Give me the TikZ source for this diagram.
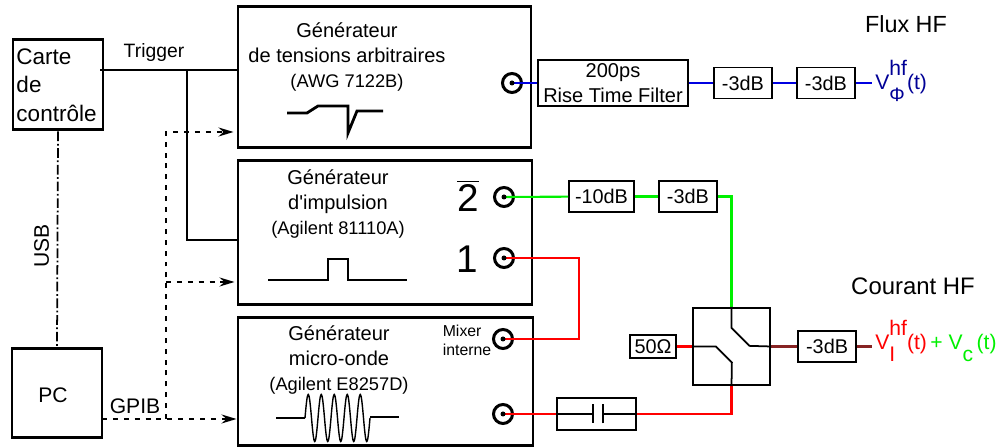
\documentclass[tikz,border=0pt]{standalone}
\usepackage{fontspec}
\setmainfont{Liberation Sans}
\usetikzlibrary{positioning,arrows.meta,calc}
\definecolor{FluxBlue}{RGB}{0,0,225}
\definecolor{FluxText}{RGB}{0,0,150}
\definecolor{PulseGreen}{RGB}{0,240,0}
\definecolor{WaveRed}{RGB}{255,0,0}
\definecolor{MixRed}{RGB}{135,35,35}
\newcommand{\fsize}[1]{\fontsize{#1}{#1}\selectfont}
\newcommand{\hfsub}[1]{\rlap{\raisebox{-6.8pt}{#1}}\raisebox{8.5pt}{hf}}
\tikzset{
  instr/.style={draw,line width=1.7pt,inner sep=0pt},
  attn/.style={draw,line width=1.1pt,minimum width=1.16cm,minimum height=0.62cm,
    inner sep=0pt,font=\fsize{11.3}},
  port/.style={draw,circle,line width=1.7pt,minimum size=0.38cm,inner sep=0pt},
  title/.style={align=center,font=\fontsize{11.4}{14.2}\selectfont,inner sep=0pt},
  digit/.style={font=\fsize{22},inner sep=0pt},
  flux/.style={line width=1.2pt,draw=FluxBlue},
  pulse/.style={line width=1.2pt,draw=PulseGreen},
  micro/.style={line width=1.2pt,draw=WaveRed},
  mixed/.style={line width=1.2pt,draw=MixRed},
  wire/.style={line width=1pt},
  wave/.style={line width=1.6pt},
  usbline/.style={line width=1pt,dash pattern=on 5.5pt off 1.5pt on 1pt off 1.5pt},
  gpib/.style={line width=1pt,dash pattern=on 2.8pt off 3.4pt},
  gpibflow/.style={gpib,-{Stealth[length=3mm,width=1.8mm,inset=1mm]}}
}
\begin{document}
\begin{tikzpicture}
  \useasboundingbox (0,0) rectangle (19.94,8.96);
  \node[instr,minimum width=1.8cm,minimum height=1.8cm,align=left,text width=1.66cm,
    font=\fontsize{12.8}{16.2}\selectfont] (carte) at (1.16,7.26) {Carte\\de\\contrôle};
  \node[instr,minimum width=1.8cm,minimum height=1.78cm] (pc) at (1.14,1.09) {};
  \node[font=\fsize{12},inner sep=0pt] (pctext) at (1.06,1.06) {PC};
  \node[instr,minimum width=5.86cm,minimum height=2.82cm] (awg) at (7.69,7.41) {};
  \node[instr,minimum width=5.88cm,minimum height=2.88cm] (imp) at (7.7,4.3) {};
  \node[instr,minimum width=5.9cm,minimum height=2.56cm] (mw) at (7.71,1.32) {};

  \node[title] (awgtext) at (6.94,7.82) {Générateur\\de tensions arbitraires\\{\fsize{10.4}(AWG 7122B)}};
  \node[title] (imptext) at (6.76,4.88) {Générateur\\d\textquotesingle impulsion\\{\fsize{10.4}(Agilent 81110A)}};
  \node[title] (mwtext) at (6.78,1.76) {Générateur\\micro-onde\\{\fsize{10.4}(Agilent E8257D)}};
  \node[align=left,font=\fontsize{9}{10.8}\selectfont,inner sep=0pt] (mixtext) at (9.34,2.16) {Mixer\\interne};
  \node[digit] (twobar) at (9.36,5.04) {$\overline{\mbox{2}}$};
  \node[digit] (one) at (9.34,3.78) {1};

  \node[port] (pawg) at (10.24,7.3) {};
  \node[port] (ptwo) at (10.08,5.02) {};
  \node[port] (pone) at (10.08,3.8) {};
  \node[port] (pmix) at (10.06,2.18) {};
  \node[port] (pout) at (10.06,0.68) {};

  \node[draw,line width=1.1pt,minimum width=3cm,minimum height=0.92cm,inner sep=0pt,align=center,
    font=\fontsize{11.4}{14.2}\selectfont] (filter) at (12.26,7.3) {200ps\\Rise Time Filter};
  \node[attn,right=0.48cm of filter] (fa) {-3dB};
  \node[attn,right=0.46cm of fa] (fb) {-3dB};
  \coordinate (fend) at (17.44,7.3);
  \node[anchor=base west,inner sep=0pt,text=FluxText,font=\fsize{12}] (vflux) at (17.5,7.16) {V\hfsub{\fsize{11}Φ}(t)};

  \node[attn,minimum width=1.3cm] (pa) at (12.03,5.03) {-10dB};
  \node[attn,right=0.46cm of pa] (pb) {-3dB};

  \node[draw,line width=1pt,minimum size=1.55cm,inner sep=0pt] (sw) at (14.63,2.03) {};
  \node[draw,line width=1pt,minimum width=0.92cm,minimum height=0.46cm,inner sep=0pt,
    font=\fsize{11.3},left=0.3cm of sw] (load) {50Ω};
  \node[attn,right=0.52cm of sw] (ma) {-3dB};
  \coordinate (mend) at (17.44,2.03);
  \node[anchor=base west,inner sep=0pt,font=\fsize{12}] (vmix) at (17.5,1.96)
    {\textcolor{WaveRed}{V\hfsub{I}(t)}\textcolor{PulseGreen}{\,+ V\raisebox{-6.8pt}{c}\,(t)}};
  \node[draw,line width=1pt,minimum width=1.58cm,minimum height=0.64cm,inner sep=0pt] (cap) at (11.93,0.68) {};

  \node[font=\fsize{13.3},inner sep=0pt] (fluxtext) at (18.12,8.48) {Flux HF};
  \node[font=\fsize{13.6},inner sep=0pt] (couranttext) at (18.26,3.24) {Courant HF};
  \node[font=\fsize{11},inner sep=0pt] (trigtext) at (3.08,7.9) {Trigger};
  \node[font=\fsize{12},inner sep=0pt] (gpibtext) at (2.7,0.84) {GPIB};
  \node[font=\fsize{12},inner sep=0pt,rotate=90] (usbtext) at (0.83,4.04) {USB};

  \draw[flux] (pawg.center) -- (filter);
  \draw[flux] (filter) -- (fa);
  \draw[flux] (fa) -- (fb);
  \draw[flux] (fb) -- (fend);

  \draw[pulse] (ptwo.center) -- (pa);
  \draw[pulse] (pa) -- (pb);
  \draw[pulse] (pb.east) -| (sw.north);

  \draw[micro] (pone.center) -- ++(1.5,0) |- (pmix.center);
  \draw[micro] (pout.center) -- (cap);
  \draw[micro] (cap.east) -| (sw.south);
  \draw[micro] (load) -- (sw);
  \draw[mixed] (sw) -- (ma);
  \draw[mixed] (ma) -- (mend);

  \foreach \p in {pawg,ptwo,pone,pmix,pout}
    \fill (\p) circle (0.05);

  \draw[wire] (sw.north) -- ++(0,-0.42) -- ++(0.36,-0.36) -- (sw.east);
  \draw[wire] (sw.west) -- ++(0.48,0) -- ++(0.32,-0.32) -- (sw.south);
  \draw[wire] (cap.west) -- ++(0.74,0) ++(0,0.19) -- ++(0,-0.38) ++(0.2,0) -- ++(0,0.38) ++(0,-0.19) -- (cap.east);

  \coordinate (trigs) at (2.0,7.56);
  \coordinate (trigj) at (3.74,7.56);
  \coordinate (trigi) at (3.74,4.16);
  \draw[wire] (trigs) -- (trigs -| awg.west);
  \draw[wire] (trigj) -- (trigi) -- (trigi -| imp.west);
  \draw[usbline] (carte.south) -- (pc.north);

  \coordinate (gpibs) at (2.04,0.58);
  \coordinate (gpibj) at (3.32,0.58);
  \coordinate (gpibi) at (3.32,3.32);
  \coordinate (gpiba) at (3.32,6.32);
  \draw[gpibflow] (gpibs) -- (gpibs -| mw.west);
  \draw[gpibflow] (gpibj) -- (gpiba) -- ([xshift=-0.06cm]gpiba -| awg.west);
  \draw[gpibflow] (gpibi) -- ([xshift=-0.04cm]gpibi -| imp.west);

  \draw[wave] (5.74,6.7) -- (6.14,6.7) -- (6.36,6.84) -- (6.96,6.84) -- (6.96,6.3) -- (7.14,6.74) -- (7.66,6.74);
  \draw[wave] (5.36,3.36) -- (6.56,3.36) -- (6.56,3.78) -- (6.96,3.78) -- (6.96,3.36) -- (8.14,3.36);
  \draw[wave] (5.52,0.6) -- (6.1,0.6);
  \draw[wave] (7.4,0.62) -- (7.98,0.62);
  \draw[line width=0.8pt] plot[domain=0:5,samples=161] ({6.1+\x*0.26},{0.6+0.47*sin(360*\x)});
\end{tikzpicture}
\end{document}
